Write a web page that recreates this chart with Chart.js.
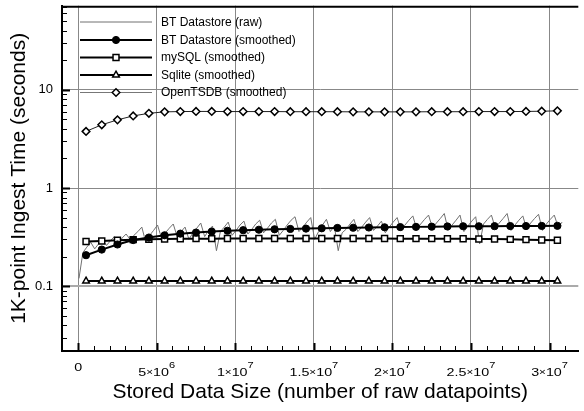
<!DOCTYPE html>
<html>
<head>
<meta charset="utf-8">
<script src="https://cdn.jsdelivr.net/npm/chart.js@4"></script>
<style>
  html, body { margin: 0; padding: 0; background: #fff; }
  #wrap { width: 584px; height: 411px; }
</style>
</head>
<body>
<div id="wrap"><canvas id="chart" width="584" height="411"></canvas></div>
<script>
// x positions of the smoothed series (raw datapoints)
const smoothX = [0.5e6, 1.5e6, 2.5e6, 3.5e6, 4.5e6, 5.5e6, 6.5e6, 7.5e6, 8.5e6, 9.5e6,
    10.5e6, 11.5e6, 12.5e6, 13.5e6, 14.5e6, 15.5e6, 16.5e6, 17.5e6, 18.5e6, 19.5e6,
    20.5e6, 21.5e6, 22.5e6, 23.5e6, 24.5e6, 25.5e6, 26.5e6, 27.5e6, 28.5e6, 29.5e6, 30.5e6];

const btSmoothed = [0.207, 0.236, 0.266, 0.295, 0.313, 0.330, 0.343, 0.352, 0.360, 0.367,
    0.372, 0.376, 0.380, 0.383, 0.386, 0.389, 0.392, 0.394, 0.396, 0.398,
    0.400, 0.402, 0.404, 0.406, 0.408, 0.408, 0.409, 0.410, 0.410, 0.411, 0.412];

const mysqlSmoothed = [0.285, 0.289, 0.294, 0.298, 0.301, 0.303, 0.304, 0.305, 0.305, 0.306,
    0.306, 0.306, 0.306, 0.306, 0.306, 0.306, 0.306, 0.306, 0.306, 0.306,
    0.305, 0.305, 0.305, 0.304, 0.304, 0.303, 0.302, 0.300, 0.298, 0.296, 0.294];

const sqliteSmoothed = [0.113, 0.113, 0.113, 0.113, 0.113, 0.113, 0.113, 0.113, 0.113, 0.113,
    0.113, 0.113, 0.113, 0.113, 0.113, 0.113, 0.113, 0.113, 0.113, 0.113,
    0.113, 0.113, 0.113, 0.113, 0.113, 0.113, 0.113, 0.113, 0.113, 0.113, 0.113];

const openTsdbSmoothed = [3.77, 4.40, 4.94, 5.42, 5.76, 5.96, 6.00, 6.02, 6.02, 6.00,
    6.00, 6.00, 6.00, 5.98, 5.98, 5.98, 5.98, 5.96, 5.96, 5.96,
    5.96, 5.96, 5.98, 5.98, 5.98, 6.00, 6.00, 6.00, 6.02, 6.05, 6.10];

// raw BT datastore samples, one every 0.25e6 starting at 0.05e6
const rawStart = 0.05e6;
const rawStep = 0.25e6;
const btRaw = [
    0.12, 0.22, 0.25, 0.28,   0.24, 0.27, 0.30, 0.26,   0.29, 0.32, 0.27, 0.31,
    0.34, 0.30, 0.33, 0.36,   0.40, 0.28, 0.33, 0.37,   0.42, 0.31, 0.35, 0.39,
    0.43, 0.32, 0.36, 0.40,   0.30, 0.35, 0.39, 0.44,   0.32, 0.37, 0.41, 0.23,
    0.36, 0.40, 0.45, 0.33,   0.37, 0.42, 0.46, 0.34,   0.38, 0.43, 0.47, 0.35,
    0.39, 0.44, 0.48, 0.33,   0.37, 0.42, 0.47, 0.51,   0.36, 0.40, 0.45, 0.50,
    0.30, 0.36, 0.42, 0.48,   0.36, 0.41, 0.23, 0.35,   0.38, 0.43, 0.48, 0.36,
    0.40, 0.45, 0.50, 0.37,   0.41, 0.46, 0.35, 0.40,   0.45, 0.50, 0.37, 0.42,
    0.47, 0.52, 0.38, 0.43,   0.48, 0.53, 0.39, 0.44,   0.49, 0.55, 0.37, 0.42,
    0.47, 0.53, 0.36, 0.41,   0.46, 0.51, 0.27, 0.43,   0.48, 0.53, 0.39, 0.44,
    0.49, 0.55, 0.37, 0.42,   0.47, 0.52, 0.38, 0.44,   0.49, 0.54, 0.37, 0.43,
    0.48, 0.53, 0.40, 0.45
];

const xTicks = [0, 5e6, 1e7, 1.5e7, 2e7, 2.5e7, 3e7];
const xTickLabels = ['0', '5×10^6', '1×10^7', '1.5×10^7', '2×10^7', '2.5×10^7', '3×10^7'];
const yTicks = [0.1, 1, 10];
const yTickLabels = ['0.1', '1', '10'];

const FONT = "'Liberation Sans', Arial, Helvetica, sans-serif";

function pairs(xs, ys) {
    return ys.map((y, i) => ({ x: xs[i], y: y }));
}

// x tick label with a small "×" and a raised exponent, slightly widened
function drawSciLabel(ctx, text, cx, baseline) {
    const parts = text.split('^');
    const m = parts[0].split('×');
    const pieces = [];
    if (m.length === 2) {
        pieces.push({ t: m[0], f: '11px ' + FONT, dy: 0 });
        pieces.push({ t: '×', f: '9px ' + FONT, dy: -1 });
        pieces.push({ t: m[1], f: '11px ' + FONT, dy: 0 });
    } else {
        pieces.push({ t: parts[0], f: '11px ' + FONT, dy: -5 });
    }
    if (parts.length === 2) pieces.push({ t: parts[1], f: '8.5px ' + FONT, dy: -8 });
    let w = 0;
    pieces.forEach(p => { ctx.font = p.f; p.w = ctx.measureText(p.t).width; w += p.w; });
    ctx.save();
    ctx.translate(cx, baseline);
    ctx.scale(1.3, 1);
    let x = -w / 2;
    ctx.textAlign = 'left';
    ctx.textBaseline = 'alphabetic';
    pieces.forEach(p => {
        ctx.font = p.f;
        ctx.fillText(p.t, x, p.dy);
        x += p.w;
    });
    ctx.restore();
}

// inward minor/major ticks, x labels, top border and the legend
const decorPlugin = {
    id: 'decor',
    afterDatasetsDraw(chart) {
        const ctx = chart.ctx;
        const area = chart.chartArea;
        const xs = chart.scales.x;
        const ys = chart.scales.y;
        ctx.save();
        ctx.strokeStyle = '#000';

        // x ticks
        for (let i = 0; i <= 31; i++) {
            const px = Math.round(xs.getPixelForValue(i * 1e6)) + 0.5;
            const major = i % 5 === 0;
            ctx.lineWidth = major ? 2 : 1;
            ctx.beginPath();
            ctx.moveTo(px, area.bottom);
            ctx.lineTo(px, area.bottom - (major ? 8 : 5));
            ctx.stroke();
        }
        // y ticks
        for (let d = -2; d <= 1; d++) {
            for (let m = 1; m <= 9; m++) {
                const v = m * Math.pow(10, d);
                if (v < ys.min || v > ys.max) continue;
                const py = Math.round(ys.getPixelForValue(v)) + 0.5;
                ctx.lineWidth = m === 1 ? 2 : 1;
                ctx.beginPath();
                ctx.moveTo(area.left, py);
                ctx.lineTo(area.left + (m === 1 ? 8 : 5), py);
                ctx.stroke();
            }
        }
        // x tick labels
        ctx.fillStyle = '#000';
        xTicks.forEach((v, i) => {
            drawSciLabel(ctx, xTickLabels[i], xs.getPixelForValue(v), area.bottom + 25);
        });

        // top frame
        ctx.lineWidth = 2;
        ctx.beginPath();
        ctx.moveTo(area.left - 1, area.top + 1);
        ctx.lineTo(area.right, area.top + 1);
        ctx.stroke();

        // legend
        const rows = [22, 40, 57.5, 75, 92.5];
        ctx.font = '12px ' + FONT;
        ctx.textBaseline = 'middle';
        ctx.textAlign = 'left';
        chart.data.datasets.forEach((ds, i) => {
            const y = rows[i];
            ctx.strokeStyle = ds.legendLine || ds.borderColor;
            ctx.lineWidth = ds.borderWidth;
            ctx.beginPath();
            ctx.moveTo(80, y);
            ctx.lineTo(152, y);
            ctx.stroke();
            if (ds.pointRadius > 0) {
                ctx.fillStyle = ds.pointBackgroundColor;
                ctx.strokeStyle = ds.pointBorderColor;
                ctx.lineWidth = ds.pointBorderWidth;
                Chart.helpers.drawPoint(ctx, {
                    pointStyle: ds.pointStyle, radius: ds.pointRadius,
                    borderWidth: ds.pointBorderWidth, rotation: 0
                }, 116, y);
            }
            ctx.fillStyle = '#000';
            ctx.fillText(ds.label, 161, y + 0.5);
        });
        ctx.restore();
    }
};

const rawData = btRaw.map((y, i) => ({ x: rawStart + i * rawStep, y: y }));

new Chart(document.getElementById('chart'), {
    type: 'line',
    data: {
        datasets: [{
            label: 'BT Datastore (raw)',
            data: rawData,
            borderColor: '#707070',
            borderWidth: 1,
            pointRadius: 0,
            order: 10
        }, {
            label: 'BT Datastore (smoothed)',
            data: pairs(smoothX, btSmoothed),
            borderColor: '#000',
            borderWidth: 2,
            pointStyle: 'circle',
            pointRadius: 3.6,
            pointBackgroundColor: '#000',
            pointBorderColor: '#000',
            pointBorderWidth: 1,
            order: 1
        }, {
            label: 'mySQL (smoothed)',
            data: pairs(smoothX, mysqlSmoothed),
            borderColor: '#000',
            borderWidth: 2,
            pointStyle: 'rect',
            pointRadius: 4.2,
            pointBackgroundColor: '#fff',
            pointBorderColor: '#000',
            pointBorderWidth: 1.5,
            order: 2
        }, {
            label: 'Sqlite (smoothed)',
            data: pairs(smoothX, sqliteSmoothed),
            borderColor: '#000',
            borderWidth: 2,
            pointStyle: 'triangle',
            pointRadius: 3.8,
            pointBackgroundColor: '#fff',
            pointBorderColor: '#000',
            pointBorderWidth: 1.5,
            order: 3
        }, {
            label: 'OpenTSDB (smoothed)',
            data: pairs(smoothX, openTsdbSmoothed),
            borderColor: '#222',
            legendLine: '#777',
            borderWidth: 1,
            pointStyle: 'rectRot',
            pointRadius: 3.8,
            pointBackgroundColor: '#fff',
            pointBorderColor: '#000',
            pointBorderWidth: 1.5,
            order: 4
        }]
    },
    options: {
        responsive: false,
        animation: false,
        devicePixelRatio: 1,
        layout: { padding: { top: 3, right: 0, bottom: 0, left: 0 } },
        elements: { line: { tension: 0 } },
        plugins: {
            legend: { display: false },
            tooltip: { enabled: false }
        },
        scales: {
            x: {
                type: 'linear',
                min: -1.03e6,
                max: 31.83e6,
                afterBuildTicks: scale => { scale.ticks = xTicks.map(v => ({ value: v })); },
                afterFit: scale => {
                    scale.height = 60;
                    scale.paddingLeft = 0;
                    scale.paddingRight = 0;
                },
                ticks: { display: false },
                grid: { color: '#888', lineWidth: 1, drawTicks: false },
                border: { display: true, color: '#000', width: 2 },
                title: {
                    display: true,
                    text: 'Stored Data Size (number of raw datapoints)',
                    color: '#000',
                    font: { family: FONT, size: 21 },
                    padding: { top: 0, bottom: 6 }
                }
            },
            y: {
                type: 'logarithmic',
                min: 0.0219,
                max: 71.8,
                afterBuildTicks: scale => { scale.ticks = yTicks.map(v => ({ value: v })); },
                afterFit: scale => {
                    scale.width = 62;
                    scale.paddingTop = 0;
                    scale.paddingBottom = 0;
                },
                ticks: {
                    autoSkip: false,
                    padding: 9,
                    color: '#000',
                    font: { family: FONT, size: 13 },
                    callback: (v) => yTickLabels[yTicks.indexOf(v)]
                },
                grid: {
                    color: ctx => ctx.tick && ctx.tick.value === 0.1 ? '#aaa' : '#888',
                    lineWidth: ctx => ctx.tick && ctx.tick.value === 0.1 ? 2 : 1,
                    drawTicks: false
                },
                border: { display: true, color: '#000', width: 2 },
                title: {
                    display: true,
                    text: '1K-point Ingest Time (seconds)',
                    color: '#000',
                    font: { family: FONT, size: 21 },
                    padding: { top: 7, bottom: 0 }
                }
            }
        }
    },
    plugins: [decorPlugin]
});
</script>
</body>
</html>
